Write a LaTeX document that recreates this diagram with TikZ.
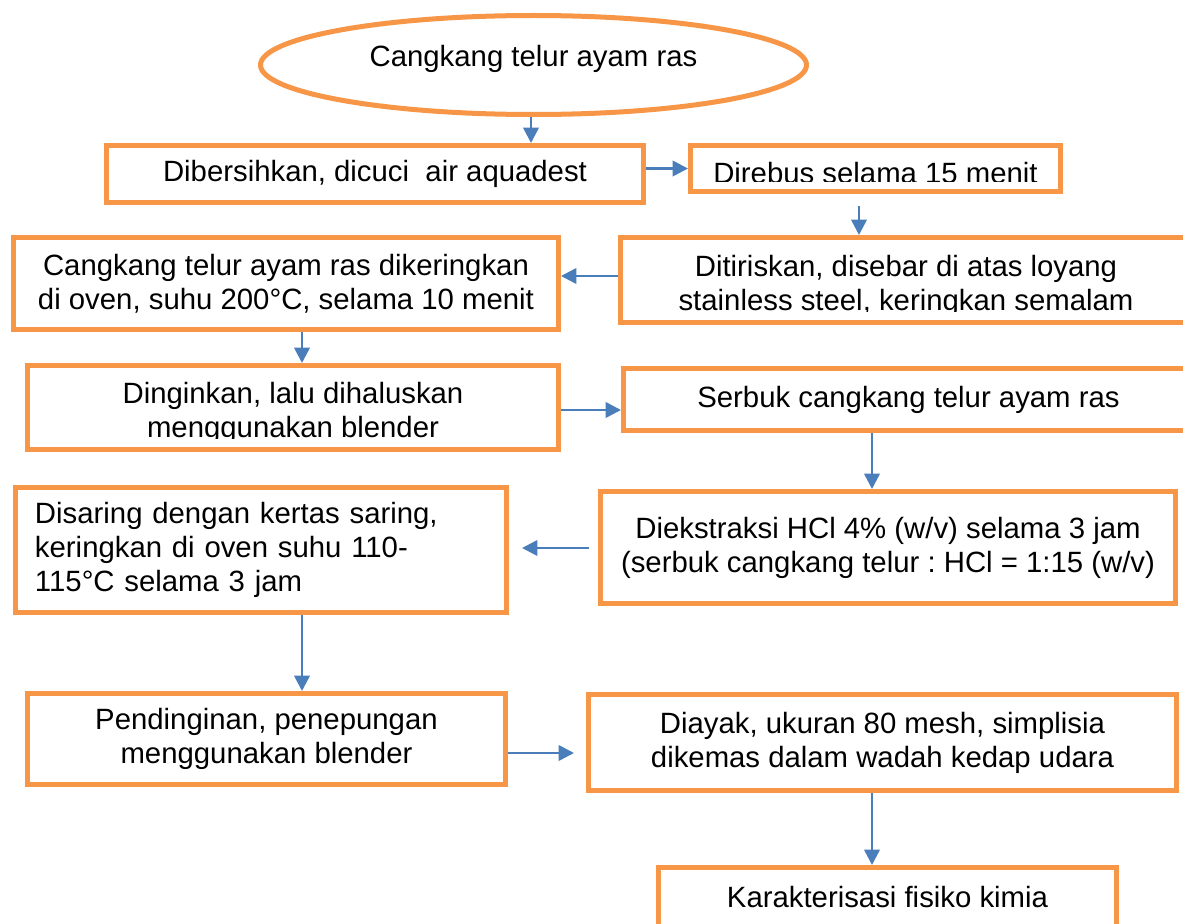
\documentclass[tikz,border=0pt]{standalone}
\usepackage{fontspec}
\setmainfont{Liberation Sans}
\usetikzlibrary{shapes.geometric,arrows.meta}
\definecolor{boxorange}{RGB}{247,150,70}
\definecolor{arrowblue}{RGB}{74,126,187}
\tikzset{every picture/.style={line width=0.75pt}}
\frenchspacing

\begin{document}
\begin{tikzpicture}[x=0.75pt,y=0.75pt,yscale=-1,xscale=1,
  wh/.style 2 args={minimum width=#1*0.75pt, minimum height=#2*0.75pt},
  boxtext/.style={inner sep=0pt, align=center, font=\fontsize{22}{25.5}\selectfont},
  procbox/.style={boxtext, draw=boxorange, line width=3.75pt, rectangle},
  startnode/.style={boxtext, draw=boxorange, line width=3.75pt, ellipse},
  flowarrow/.style={draw=arrowblue, line width=2pt, -{Triangle[length=11.5pt,width=11.5pt]}}]
\useasboundingbox (0,0) rectangle (1183,924);

%Start Ellipse
\node[startnode, wh={546}{99}, text depth=13pt] (telur) at (533.5,65) {Cangkang telur ayam ras};

%Flow Boxes
\node[procbox, wh={537}{57}] (bersih) at (375,174) {Dibersihkan, dicuci\ \ air aquadest};
\node[procbox, wh={370}{46}] (direbus) at (875.5,168.5) {};
\node[procbox, wh={572}{85}] (tiris) at (906.5,280) {};
\node[procbox, wh={545}{92}] (kering) at (286,283.5) {Cangkang telur ayam ras dikeringkan\\di oven, suhu 200°C, selama 10 menit};
\node[procbox, wh={531}{84}] (dingin) at (293,407.5) {};
\node[procbox, wh={570}{62}] (serbuk) at (908.5,399.5) {Serbuk cangkang telur ayam ras};
\node[procbox, wh={575}{112}] (ekstrak) at (888,547.5) {Diekstraksi HCl 4\% (w/v) selama 3 jam\\(serbuk cangkang telur : HCl = 1:15 (w/v)};
\node[procbox, wh={491}{125}, inner xsep=14.6pt, text width=339pt, align=left] (saring) at (261,550) {Disaring dengan kertas saring,\\keringkan di oven suhu 110-\\115°C selama 3 jam};
\node[procbox, wh={478}{91}] (pendingin) at (266.5,739) {Pendinginan, penepungan\\menggunakan blender};
\node[procbox, wh={588}{96}] (ayak) at (882.5,742.5) {Diayak, ukuran 80 mesh, simplisia\\dikemas dalam wadah kedap udara};
\node[procbox, wh={458}{60}] (karakter) at (887.5,897.5) {Karakterisasi fisiko kimia};

%Cut Off Texts
\begin{scope}
\clip (690,145) rectangle (1061,181);
\node[boxtext, anchor=base] (direbustxt) at (875.5,184) {Direbus selama 15 menit};
\end{scope}
\begin{scope}
\clip (621,237) rectangle (1183,311);
\node[boxtext, anchor=base] (tiristxt) at (906,310) {Ditiriskan, disebar di atas loyang\\stainless steel, keringkan semalam};
\end{scope}
\begin{scope}
\clip (28,366) rectangle (558,438);
\node[boxtext, anchor=base] (dingintxt) at (293,437) {Dinginkan, lalu dihaluskan\\menggunakan blender};
\end{scope}

%Arrows
\draw[flowarrow] (telur.south -| 531,0) -- (bersih.north -| 531,0);
\draw[flowarrow] (bersih.east |- direbus.west) -- (direbus.west);
\draw[flowarrow, shorten <=9pt] (direbus.south -| 859,0) -- (tiris.north -| 859,0);
\draw[flowarrow] (tiris.west |- 0,276) -- (kering.east |- 0,276);
\draw[flowarrow] (kering.south -| 302,0) -- (dingin.north -| 302,0);
\draw[flowarrow] (dingin.east |- 0,410) -- (serbuk.west |- 0,410);
\draw[flowarrow] (serbuk.south -| 872,0) -- (ekstrak.north -| 872,0);
\draw[flowarrow, shorten <=6.75pt, shorten >=9.75pt] (ekstrak.west |- 0,548) -- (saring.east |- 0,548);
\draw[flowarrow] (saring.south -| 302,0) -- (pendingin.north -| 302,0);
\draw[flowarrow, shorten >=9pt] (pendingin.east |- 0,753) -- (ayak.west |- 0,753);
\draw[flowarrow] (ayak.south -| 872,0) -- (karakter.north -| 872,0);

\end{tikzpicture}
\end{document}
